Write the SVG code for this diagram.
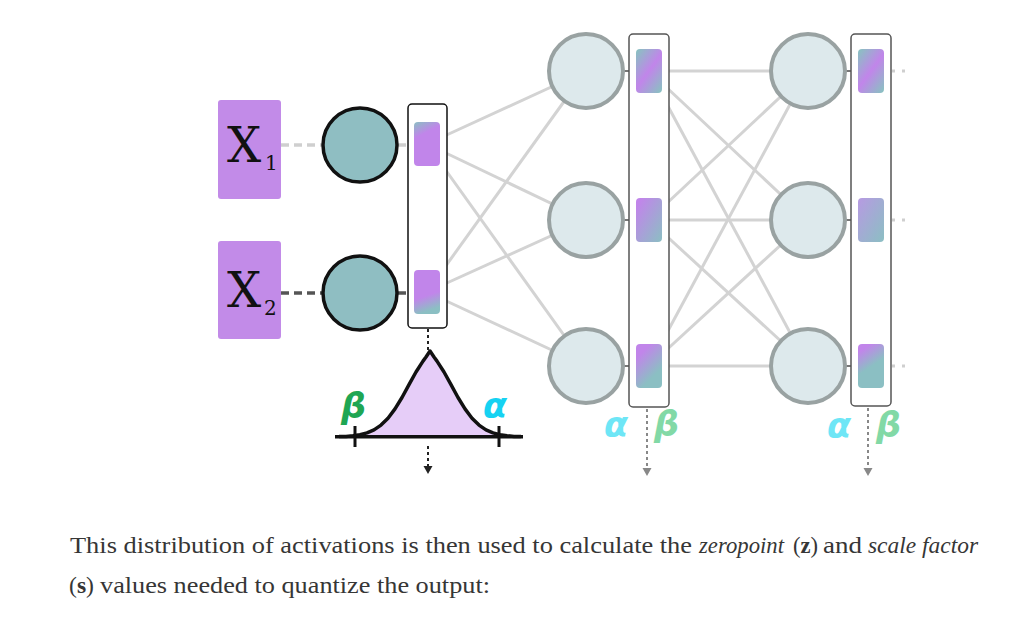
<svg xmlns="http://www.w3.org/2000/svg" width="1018" height="630" viewBox="0 0 1018 630">
<defs>
<style>
.conn{stroke:#d3d3d3;stroke-width:3;fill:none}
.xbox{fill:#c28be8}
.xlab{font-family:"DejaVu Serif","Liberation Serif",serif;fill:#111}
.c1{fill:#8fbec2;stroke:#111;stroke-width:3.5}
.c2{fill:#dde9ec;stroke:#99a2a2;stroke-width:4}
.bar1{fill:#fff;stroke:#111;stroke-width:1.5}
.bar2{fill:#fff;stroke:#555;stroke-width:1.5}
.greek{font-family:"DejaVu Sans","Noto Sans",sans-serif;font-style:italic;font-weight:bold;font-size:35px}
.body{font-family:"Liberation Serif","DejaVu Serif",serif;font-size:24px;fill:#363636}
</style>
<linearGradient id="gA" x1="0" y1="0" x2="0.3" y2="1"><stop offset="0" stop-color="#8bbfc3"/><stop offset="0.35" stop-color="#c185ea"/><stop offset="1" stop-color="#c185ea"/></linearGradient>
<linearGradient id="gB" x1="0" y1="0" x2="0.2" y2="1"><stop offset="0" stop-color="#c185ea"/><stop offset="0.65" stop-color="#c185ea"/><stop offset="1" stop-color="#8bbfc3"/></linearGradient>
<linearGradient id="gC" x1="0.1" y1="0" x2="0.9" y2="1"><stop offset="0" stop-color="#8bbfc3"/><stop offset="0.5" stop-color="#c185ea"/><stop offset="1" stop-color="#8bbfc3"/></linearGradient>
<linearGradient id="gD" x1="0" y1="0" x2="1" y2="1"><stop offset="0.1" stop-color="#c185ea"/><stop offset="1" stop-color="#8bbfc3"/></linearGradient>
<linearGradient id="gE" x1="0.2" y1="0" x2="0.8" y2="1"><stop offset="0.15" stop-color="#c185ea"/><stop offset="0.75" stop-color="#8bbfc3"/></linearGradient>
<linearGradient id="gF" x1="0" y1="0" x2="1" y2="1"><stop offset="0" stop-color="#b79ae2"/><stop offset="1" stop-color="#8bbfc3"/></linearGradient>
<linearGradient id="gG" x1="0.2" y1="0" x2="0.6" y2="1"><stop offset="0.1" stop-color="#c185ea"/><stop offset="0.55" stop-color="#8bbfc3"/></linearGradient>
</defs>
<rect width="1018" height="630" fill="#fff"/>

<g id="connectors">
<line class="conn" x1="427" y1="144" x2="586" y2="71"/>
<line class="conn" x1="427" y1="144" x2="586" y2="220"/>
<line class="conn" x1="427" y1="144" x2="586" y2="366"/>
<line class="conn" x1="427" y1="292" x2="586" y2="71"/>
<line class="conn" x1="427" y1="292" x2="586" y2="220"/>
<line class="conn" x1="427" y1="292" x2="586" y2="366"/>
<line class="conn" x1="649" y1="71" x2="808" y2="71"/>
<line class="conn" x1="649" y1="71" x2="808" y2="220"/>
<line class="conn" x1="649" y1="71" x2="808" y2="366"/>
<line class="conn" x1="649" y1="220" x2="808" y2="71"/>
<line class="conn" x1="649" y1="220" x2="808" y2="220"/>
<line class="conn" x1="649" y1="220" x2="808" y2="366"/>
<line class="conn" x1="649" y1="366" x2="808" y2="71"/>
<line class="conn" x1="649" y1="366" x2="808" y2="220"/>
<line class="conn" x1="649" y1="366" x2="808" y2="366"/>
<line x1="281" y1="145" x2="408" y2="145" stroke="#cfcfcf" stroke-width="3.5" stroke-dasharray="8 5"/>
<line x1="281" y1="293" x2="408" y2="293" stroke="#555" stroke-width="3.5" stroke-dasharray="8 5"/>
<line x1="586" y1="71" x2="629" y2="71" stroke="#777" stroke-width="2"/>
<line x1="586" y1="220" x2="629" y2="220" stroke="#777" stroke-width="2"/>
<line x1="586" y1="366" x2="629" y2="366" stroke="#777" stroke-width="2"/>
<line x1="808" y1="71" x2="851" y2="71" stroke="#777" stroke-width="2"/>
<line x1="808" y1="220" x2="851" y2="220" stroke="#777" stroke-width="2"/>
<line x1="808" y1="366" x2="851" y2="366" stroke="#777" stroke-width="2"/>
<g stroke="#cfcfcf" stroke-width="3" stroke-dasharray="3 7">
<line x1="892" y1="71" x2="906" y2="71"/>
<line x1="892" y1="220" x2="906" y2="220"/>
<line x1="892" y1="366" x2="906" y2="366"/>
</g>
<line x1="428" y1="329" x2="428" y2="350" stroke="#222" stroke-width="2" stroke-dasharray="3 3"/>
<line x1="428" y1="446" x2="428" y2="466" stroke="#222" stroke-width="2" stroke-dasharray="3 3"/>
<polygon points="423.5,466 432.5,466 428,474" fill="#222"/>
<line x1="647" y1="409" x2="647" y2="468" stroke="#888" stroke-width="2" stroke-dasharray="3 3"/>
<polygon points="642.5,468 651.5,468 647,476" fill="#888"/>
<line x1="868" y1="408" x2="868" y2="468" stroke="#888" stroke-width="2" stroke-dasharray="3 3"/>
<polygon points="863.5,468 872.5,468 868,476" fill="#888"/>
</g>

<g id="x1">
<rect class="xbox" x="218" y="100" width="63" height="99" rx="3"/>
<text class="xlab" x="227" y="162" font-size="48">X</text>
<text class="xlab" x="265" y="170" font-size="20">1</text>
</g>
<g id="x2">
<rect class="xbox" x="218" y="241" width="63" height="98" rx="3"/>
<text class="xlab" x="227" y="307" font-size="48">X</text>
<text class="xlab" x="264" y="315" font-size="20">2</text>
</g>

<g id="in1"><circle class="c1" cx="360" cy="145" r="37"/></g>
<g id="in2"><circle class="c1" cx="360" cy="293" r="37"/></g>

<g id="bar1">
<rect class="bar1" x="408" y="104" width="39" height="224" rx="4"/>
<rect x="414" y="122" width="26" height="44" rx="4" fill="url(#gA)"/>
<rect x="414" y="270" width="26" height="44" rx="4" fill="url(#gB)"/>
</g>

<g id="distribution">
<path fill="#e6cdf8" stroke="#111" stroke-width="3.5" stroke-linejoin="round" d="M339,436.6 L346,436.4 353,435.7 360,434.7 367,432.9 374,429.9 381,425.1 388,418.2 395,408.9 402,397.5 409,384.7 416,372 423,361.1 426,357 430,351 434,357 437,361.1 444,372 451,384.7 458,397.5 465,408.9 472,418.2 479,425.1 486,429.9 493,432.9 500,434.7 507,435.7 514,436.4 521,436.6"/>
<line x1="335" y1="436.7" x2="523" y2="436.7" stroke="#111" stroke-width="3.5"/>
<line x1="355" y1="426" x2="355" y2="447" stroke="#111" stroke-width="3"/>
<line x1="499" y1="426" x2="499" y2="447" stroke="#111" stroke-width="3"/>
<text class="greek" x="341" y="418" fill="#1fa653">β</text>
<text class="greek" x="483" y="418" fill="#16d2f2">α</text>
</g>

<g id="h1"><circle class="c2" cx="586" cy="71" r="37"/></g>
<g id="h2"><circle class="c2" cx="586" cy="220" r="37"/></g>
<g id="h3"><circle class="c2" cx="586" cy="366" r="37"/></g>

<g id="bar2">
<rect class="bar2" x="629" y="34" width="40" height="373" rx="4"/>
<rect x="636" y="49" width="26" height="44" rx="4" fill="url(#gC)"/>
<rect x="636" y="198" width="26" height="44" rx="4" fill="url(#gD)"/>
<rect x="636" y="344" width="26" height="44" rx="4" fill="url(#gE)"/>
<text class="greek" x="604" y="437" fill="#6ee6f6">α</text>
<text class="greek" x="654" y="436" fill="#82d9a6">β</text>
</g>

<g id="o1"><circle class="c2" cx="808" cy="71" r="37"/></g>
<g id="o2"><circle class="c2" cx="808" cy="220" r="37"/></g>
<g id="o3"><circle class="c2" cx="808" cy="366" r="37"/></g>

<g id="bar3">
<rect class="bar2" x="851" y="34" width="40" height="372" rx="4"/>
<rect x="858" y="49" width="26" height="44" rx="4" fill="url(#gC)"/>
<rect x="858" y="198" width="26" height="44" rx="4" fill="url(#gF)"/>
<rect x="858" y="344" width="26" height="44" rx="4" fill="url(#gG)"/>
<text class="greek" x="827" y="438" fill="#6ee6f6">α</text>
<text class="greek" x="876" y="437" fill="#82d9a6">β</text>
</g>

<g id="caption">
<text class="body" x="70" y="553" textLength="622" lengthAdjust="spacingAndGlyphs">This distribution of activations is then used to calculate the</text>
<text class="body" x="699" y="553" font-style="italic" textLength="85" lengthAdjust="spacingAndGlyphs">zeropoint</text>
<text class="body" x="793" y="553" textLength="25" lengthAdjust="spacingAndGlyphs">(<tspan font-weight="bold">z</tspan>)</text>
<text class="body" x="823" y="553" textLength="39" lengthAdjust="spacingAndGlyphs">and</text>
<text class="body" x="868" y="553" font-style="italic" textLength="110" lengthAdjust="spacingAndGlyphs">scale factor</text>
<text class="body" x="69" y="593" textLength="25" lengthAdjust="spacingAndGlyphs">(<tspan font-weight="bold">s</tspan>)</text>
<text class="body" x="100" y="593" textLength="390" lengthAdjust="spacingAndGlyphs">values needed to quantize the output:</text>
</g>
</svg>
